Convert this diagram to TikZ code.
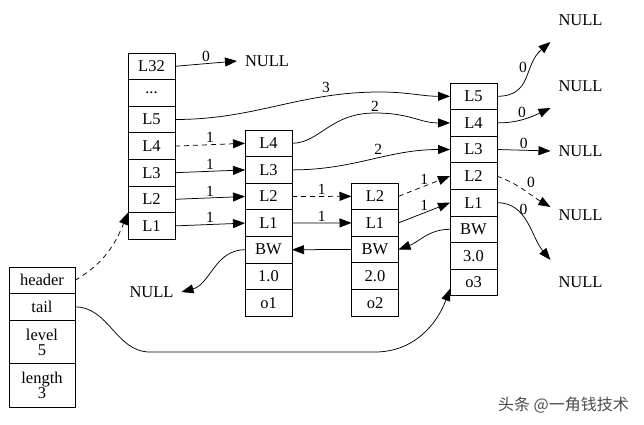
\documentclass[tikz,border=0pt]{standalone}
\usepackage{fontspec}
\setmainfont{Liberation Serif}
\newfontfamily\cjk{Noto Sans CJK SC}
\usepackage{tikz}
\usetikzlibrary{arrows.meta,positioning}
\newcommand{\cellfont}{\fontsize{16.5}{15}\selectfont}
\newcommand{\edgefont}{\fontsize{15.5}{16}\selectfont}
\tikzset{
cell/.style={
  rectangle,
  draw,
  minimum width=47pt,
  minimum height=26.6pt,
  inner sep=0pt,
  outer sep=0pt,
  font=\cellfont},
field/.style={cell, minimum width=66pt},
null/.style={
  rectangle,
  minimum width=60pt,
  minimum height=44pt,
  inner sep=0pt,
  outer sep=0pt,
  font=\cellfont},
line/.style={draw, line width=0.75pt, -{Triangle[length=12pt,width=9pt]}},
dline/.style={line, dash pattern=on 5pt off 4pt},
lbl/.style={font=\edgefont, inner sep=1.5pt},
edge/.style={draw}
}

\begin{document}
\begin{tikzpicture}[x=1pt,y=1pt,line width=0.75pt]
    \useasboundingbox (0,0) rectangle (644,424);
    % header
    \node [cell, anchor=north] (h32) at (151.5,371) {L32};
    \node [cell, below=0pt of h32] (hdots) {...};
    \node [cell, below=0pt of hdots] (h5) {L5};
    \node [cell, below=0pt of h5] (h4) {L4};
    \node [cell, below=0pt of h4] (h3) {L3};
    \node [cell, below=0pt of h3] (h2) {L2};
    \node [cell, below=0pt of h2] (h1) {L1};
    % o1
    \node [cell, anchor=north] (a4) at (268.5,294) {L4};
    \node [cell, below=0pt of a4] (a3) {L3};
    \node [cell, below=0pt of a3] (a2) {L2};
    \node [cell, below=0pt of a2] (a1) {L1};
    \node [cell, below=0pt of a1] (abw) {BW};
    \node [cell, below=0pt of abw] (ascore) {1.0};
    \node [cell, below=0pt of ascore] (aobj) {o1};
    % o2
    \node [cell, anchor=north] (b2) at (375,241) {L2};
    \node [cell, below=0pt of b2] (b1) {L1};
    \node [cell, below=0pt of b1] (bbw) {BW};
    \node [cell, below=0pt of bbw] (bscore) {2.0};
    \node [cell, below=0pt of bscore] (bobj) {o2};
    % o3
    \node [cell, anchor=north] (c5) at (473.5,341) {L5};
    \node [cell, below=0pt of c5] (c4) {L4};
    \node [cell, below=0pt of c4] (c3) {L3};
    \node [cell, below=0pt of c3] (c2) {L2};
    \node [cell, below=0pt of c2] (c1) {L1};
    \node [cell, below=0pt of c1] (cbw) {BW};
    \node [cell, below=0pt of cbw] (cscore) {3.0};
    \node [cell, below=0pt of cscore] (cobj) {o3};
    % list
    \node [field, anchor=north] (lhead) at (42,157) {header};
    \node [field, below=0pt of lhead] (ltail) {tail};
    \node [field, below=0pt of ltail, minimum height=43.5pt, align=center] (llevel) {level\\5};
    \node [field, below=0pt of llevel, minimum height=43.5pt, align=center] (llen) {length\\3};
    % NULL
    \node [null] (n0) at (267,363) {NULL};
    \node [null] (n5) at (580.5,404) {NULL};
    \node [null] (n4) at (580.5,338) {NULL};
    \node [null] (n3) at (580.5,273) {NULL};
    \node [null] (n2) at (580.5,209) {NULL};
    \node [null] (n1) at (580.5,142) {NULL};
    \node [null] (nbw) at (151.5,132) {NULL};
    \node [font=\cjk\fontsize{16}{18}\selectfont, text=black!70] (mark) at (563.5,19) {头条 @一角钱技术};

    \path [line] (h32.east) -- (n0.west) node [lbl, midway, above] {0};
    \path [line] (h5.east) to [out=0, in=180] (380,332) to [out=0, in=180] (c5.west);
    \node [lbl] at (326,337) {3};
    \path [dline] (h4.east) -- (a4.west) node [lbl, midway, above] {1};
    \path [line] (h3.east) -- (a3.west) node [lbl, midway, above] {1};
    \path [line] (h2.east) -- (a2.west) node [lbl, midway, above] {1};
    \path [line] (h1.east) -- (a1.west) node [lbl, midway, above] {1};
    \path [line] (a4.east) .. controls (320,281) and (330,311) .. (375,311) node [lbl, above] {2}
      .. controls (410,311) and (420,301) .. (c4.west);
    \path [line] (a3.east) to [out=0, in=180] node [lbl, pos=0.55, above=2pt] {2} (c3.west);
    \path [dline] (a2.east) -- (b2.west) node [lbl, midway, above] {1};
    \path [line] (a1.east) -- (b1.west) node [lbl, midway, above] {1};
    \path [dline] (b2.east) -- (c2.west) node [lbl, midway, above] {1};
    \path [line] (b1.east) -- (c1.west) node [lbl, midway, above] {1};
    \path [line] (c5.east) to [out=0, in=220, looseness=1.2] node [lbl, pos=0.65, left=3pt] {0} (n5.south west);
    \path [line] (c4.east) to [out=0, in=205] node [lbl, pos=0.45, above] {0} (n4.south west);
    \path [line] (c3.east) -- (n3.west) node [lbl, midway, above] {0};
    \path [dline] (c2.east) to [out=-20, in=150] node [lbl, pos=0.5, above right=1pt] {0} (n2.165);
    \path [line] (c1.east) to [out=0, in=130] node [lbl, pos=0.4, above] {0} (n1.north west);
    \path [line] (cbw.west) to [out=180, in=20] (bbw.east);
    \path [line] (bbw.west) -- (abw.east);
    \path [line] (abw.west) to [out=180, in=15] (nbw.east);
    \path [dline] (lhead.east) to [out=30, in=248] (h1.north west);
    \path [line] (ltail.east) to [out=0, in=180] (150,72) -- (375,72) to [out=0, in=250] (cobj.195);
\end{tikzpicture}
\end{document}
